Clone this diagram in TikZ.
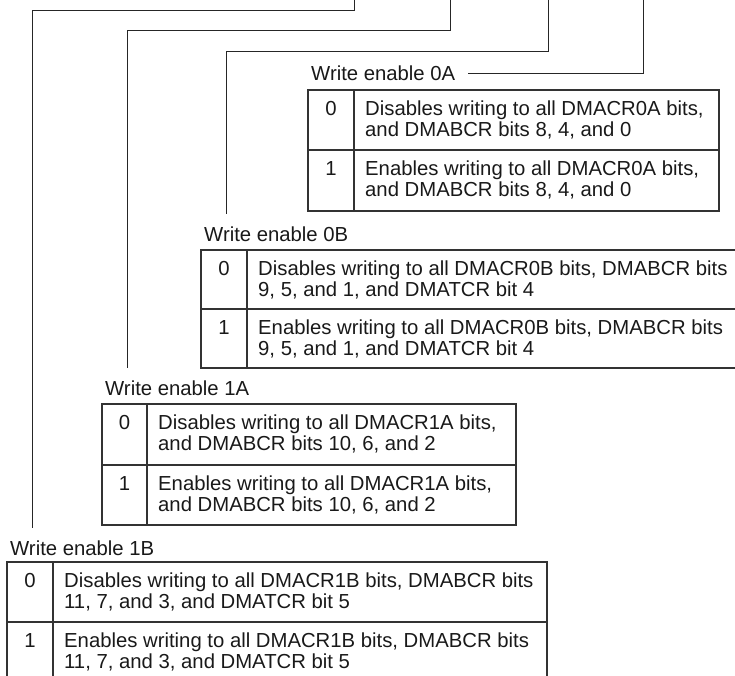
\documentclass[tikz,border=0pt]{standalone}
\usepackage{fontspec}
\setmainfont{Liberation Sans}
\begin{document}
\begin{tikzpicture}[x=1pt,y=-1pt,
  conn/.style={draw=black!85, line width=0.9pt, shorten >=12pt},
  tbl/.style={draw=black!80, line width=1.3pt},
  txt/.style={inner sep=0pt, text=black!90, font=\fontsize{20.3}{21}\selectfont},
  lbl/.style={txt, anchor=west},
  dig/.style={txt, anchor=base},
  desc/.style={txt, anchor=base west}]
\useasboundingbox (0,0) rectangle (735,675);

% labels
\node[lbl] (l0A) at (311,73) {Write enable 0A};
\node[lbl] (l0B) at (204,234) {Write enable 0B};
\node[lbl] (l1A) at (105,388) {Write enable 1A};
\node[lbl] (l1B) at (10,548) {Write enable 1B};

% connectors
\coordinate (t0A) at (643,0);
\draw[conn, shorten >=0pt] ([xshift=13pt]l0A.east) -| (t0A);
\coordinate (t0B) at (548,0); \coordinate (k0B) at (226,51);
\draw[conn] (t0B) |- (k0B) -- (k0B |- l0B.north);
\coordinate (t1A) at (450,0); \coordinate (k1A) at (127,30);
\draw[conn] (t1A) |- (k1A) -- (k1A |- l1A.north);
\coordinate (t1B) at (354,0); \coordinate (k1B) at (32,10);
\draw[conn] (t1B) |- (k1B) -- (k1B |- l1B.north);

% table 0A  (top 90, divider 150, bottom 211)
\draw[tbl] (308,90) rectangle (719,211);
\draw[tbl] (308,150) -- (719,150);
\draw[tbl] (354,90) -- (354,211);
\node[dig] (a0) at (331,115.8) {0};
\node[desc] (a0t) at (365,115.8) {Disables writing to all DMACR0A bits,};
\node[desc] (a0u) at (365,136.3) {and DMABCR bits 8, 4, and 0};
\node[dig] (a1) at (331,175.8) {1};
\node[desc] (a1t) at (365,175.8) {Enables writing to all DMACR0A bits,};
\node[desc] (a1u) at (365,196.3) {and DMABCR bits 8, 4, and 0};

% table 0B  (top 250, divider 309, bottom 368)
\draw[tbl] (736,250) -- (201,250) -- (201,368) -- (736,368);
\draw[tbl] (201,309) -- (736,309);
\draw[tbl] (247,250) -- (247,368);
\node[dig] (b0) at (224,275.8) {0};
\node[desc] (b0t) at (258,275.8) {Disables writing to all DMACR0B bits, DMABCR bits};
\node[desc] (b0u) at (258,296.3) {9, 5, and 1, and DMATCR bit 4};
\node[dig] (b1) at (224,334.8) {1};
\node[desc] (b1t) at (258,334.8) {Enables writing to all DMACR0B bits, DMABCR bits};
\node[desc] (b1u) at (258,355.3) {9, 5, and 1, and DMATCR bit 4};

% table 1A  (top 404, divider 465, bottom 525)
\draw[tbl] (102,404) rectangle (516,525);
\draw[tbl] (102,465) -- (516,465);
\draw[tbl] (147,404) -- (147,525);
\node[dig] (c0) at (124.5,429.8) {0};
\node[desc] (c0t) at (158,429.8) {Disables writing to all DMACR1A bits,};
\node[desc] (c0u) at (158,450.3) {and DMABCR bits 10, 6, and 2};
\node[dig] (c1) at (124.5,490.8) {1};
\node[desc] (c1t) at (158,490.8) {Enables writing to all DMACR1A bits,};
\node[desc] (c1u) at (158,511.3) {and DMABCR bits 10, 6, and 2};

% table 1B  (top 562, divider 622, cut at the bottom)
\draw[tbl] (7,676) -- (7,562) -- (547,562) -- (547,676);
\draw[tbl] (7,622) -- (547,622);
\draw[tbl] (53,562) -- (53,676);
\node[dig] (d0) at (30,587.8) {0};
\node[desc] (d0t) at (64,587.8) {Disables writing to all DMACR1B bits, DMABCR bits};
\node[desc] (d0u) at (64,608.3) {11, 7, and 3, and DMATCR bit 5};
\node[dig] (d1) at (30,647.8) {1};
\node[desc] (d1t) at (64,647.8) {Enables writing to all DMACR1B bits, DMABCR bits};
\node[desc] (d1u) at (64,668.3) {11, 7, and 3, and DMATCR bit 5};
\end{tikzpicture}
\end{document}
